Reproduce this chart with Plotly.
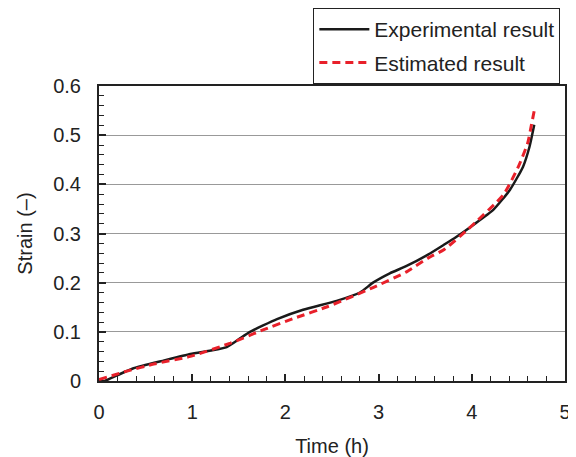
import plotly.graph_objects as go

# Experimental result (black solid)
exp_time = [0.0, 0.06, 0.2, 0.37, 0.7, 0.98, 1.2, 1.37, 1.5, 1.62, 1.91, 2.19, 2.55, 2.80,
            2.94, 3.12, 3.30, 3.53, 3.70, 3.84, 4.02, 4.23, 4.41, 4.55, 4.62, 4.67]
exp_strain = [0.0, 0.0, 0.012, 0.026, 0.042, 0.055, 0.062, 0.069, 0.085, 0.100, 0.126, 0.145,
              0.163, 0.180, 0.200, 0.219, 0.234, 0.257, 0.277, 0.294, 0.318, 0.348, 0.389,
              0.436, 0.477, 0.521]

# Estimated result (red dashed)
est_time = [0.0, 0.3, 0.6, 0.98, 1.41, 1.76, 2.1, 2.45, 2.94, 3.30, 3.53, 3.70, 3.95, 4.34,
            4.50, 4.60, 4.64, 4.67]
est_strain = [0.003, 0.020, 0.035, 0.050, 0.077, 0.104, 0.128, 0.151, 0.190, 0.222, 0.250,
              0.267, 0.307, 0.379, 0.436, 0.484, 0.521, 0.550]

x_ticks = [0, 1, 2, 3, 4, 5]
y_ticks = [0, 0.1, 0.2, 0.3, 0.4, 0.5, 0.6]
y_tick_labels = ["0", "0.1", "0.2", "0.3", "0.4", "0.5", "0.6"]

FONT = "Liberation Sans, Arial, sans-serif"

fig = go.Figure()
fig.add_trace(go.Scatter(
    x=exp_time, y=exp_strain, mode="lines", name="Experimental result",
    legendgroup="a",
    line=dict(color="#1a1a1a", width=2.5, shape="spline", smoothing=0.5),
))
fig.add_trace(go.Scatter(
    x=est_time, y=est_strain, mode="lines", name="Estimated result",
    legendgroup="b",
    line=dict(color="#e8202a", width=3, dash="8px,5px", shape="spline", smoothing=0.5),
))

# The page body adds an 8px offset; the figure is sized to compensate.
fig.update_layout(
    width=568, height=449,
    margin=dict(l=91, r=11, t=78, b=76, autoexpand=False),
    paper_bgcolor="white", plot_bgcolor="white",
    font=dict(family=FONT, size=20, color="#222"),
    showlegend=True,
    legend=dict(
        x=0.99, xanchor="right", y=1.264, yanchor="top",
        bordercolor="#222", borderwidth=1, bgcolor="white",
        font=dict(size=21, family=FONT, color="#222"),
        tracegroupgap=3, itemwidth=50,
    ),
    xaxis=dict(
        range=[0, 5], tickvals=x_ticks, ticktext=[str(v) for v in x_ticks],
        showgrid=False, zeroline=False, automargin=False,
        showline=True, linecolor="#222", linewidth=2, mirror=True,
        ticks="inside", ticklen=7, tickwidth=1.5, tickcolor="#222",
        minor=dict(dtick=0.2, ticks="inside", ticklen=5, tickwidth=1, tickcolor="#222"),
        ticklabelstandoff=12,
        title=dict(text="Time (h)", standoff=17, font=dict(size=20)),
        tickfont=dict(size=20),
    ),
    yaxis=dict(
        range=[0, 0.6], tickvals=y_ticks, ticktext=y_tick_labels,
        showgrid=True, gridcolor="#999", gridwidth=1, zeroline=False, automargin=False,
        showline=True, linecolor="#222", linewidth=2, mirror=True,
        ticks="inside", ticklen=7, tickwidth=1.5, tickcolor="#222",
        minor=dict(dtick=0.02, ticks="inside", ticklen=5, tickwidth=1, tickcolor="#222"),
        ticklabelstandoff=12,
        title=dict(text="Strain (–)", standoff=15, font=dict(size=20)),
        tickfont=dict(size=20),
    ),
)

fig.write_html("out.html")
